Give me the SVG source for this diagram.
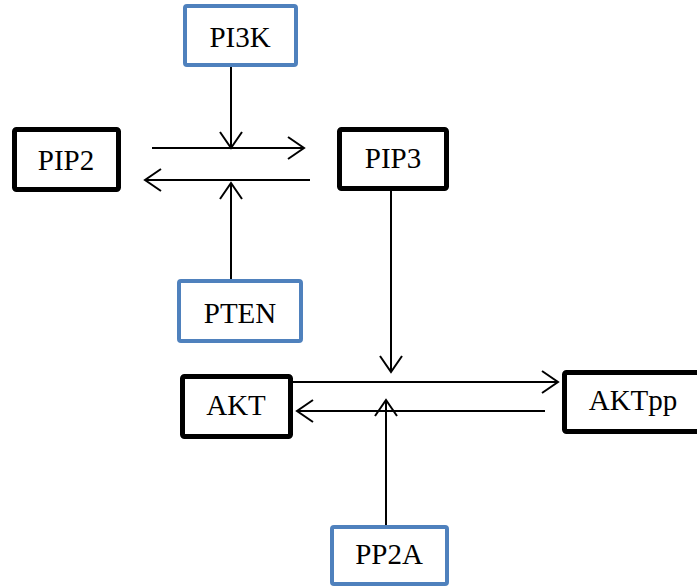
<svg xmlns="http://www.w3.org/2000/svg" width="697" height="588" viewBox="0 0 697 588">
<style>
.blk{fill:#fff;stroke:#000;stroke-width:5}
.blu{fill:#fff;stroke:#4f81bd;stroke-width:4}
.t{font-family:"Times New Roman","Liberation Serif",Times,serif;font-size:29px;fill:#000;text-anchor:middle}
.c{stroke:#000;stroke-width:2;fill:none;marker-end:url(#ah)}
</style>
<defs>
<marker id="ah" markerUnits="userSpaceOnUse" markerWidth="22" markerHeight="28" refX="17" refY="12" orient="auto" viewBox="0 0 22 28">
<path d="M1,1 L17,12 L1,23" fill="none" stroke="#000" stroke-width="2"/>
</marker>
</defs>
<rect width="697" height="588" fill="#fff"/>
<g id="connectors">
<path class="c" d="M231,67 L231,148"/>
<path class="c" d="M152,148 L304,148"/>
<path class="c" d="M310,180 L145,180"/>
<path class="c" d="M231,279 L231,183"/>
<path class="c" d="M391,191 L391,372"/>
<path class="c" d="M293,382 L558,382"/>
<path class="c" d="M545,411 L297,411"/>
<path class="c" d="M386,525 L386,400"/>
</g>
<g id="PI3K"><rect class="blu" x="185" y="6" width="111" height="59" rx="2"/><text class="t" x="240" y="47">PI3K</text></g>
<g id="PIP2"><rect class="blk" x="14.5" y="129.5" width="104" height="60" rx="2"/><text class="t" x="66" y="170">PIP2</text></g>
<g id="PIP3"><rect class="blk" x="339.5" y="129.5" width="107" height="59" rx="2"/><text class="t" x="393" y="168">PIP3</text></g>
<g id="PTEN"><rect class="blu" x="179" y="281" width="122" height="60" rx="2"/><text class="t" x="240" y="323">PTEN</text></g>
<g id="AKT"><rect class="blk" x="182.5" y="376.5" width="108" height="60" rx="2"/><text class="t" x="236" y="415">AKT</text></g>
<g id="AKTpp"><rect class="blk" x="564.5" y="372.5" width="145" height="59" rx="2"/><text class="t" x="633" y="410">AKTpp</text></g>
<g id="PP2A"><rect class="blu" x="332" y="527" width="115" height="57" rx="2"/><text class="t" x="389" y="564">PP2A</text></g>
</svg>
